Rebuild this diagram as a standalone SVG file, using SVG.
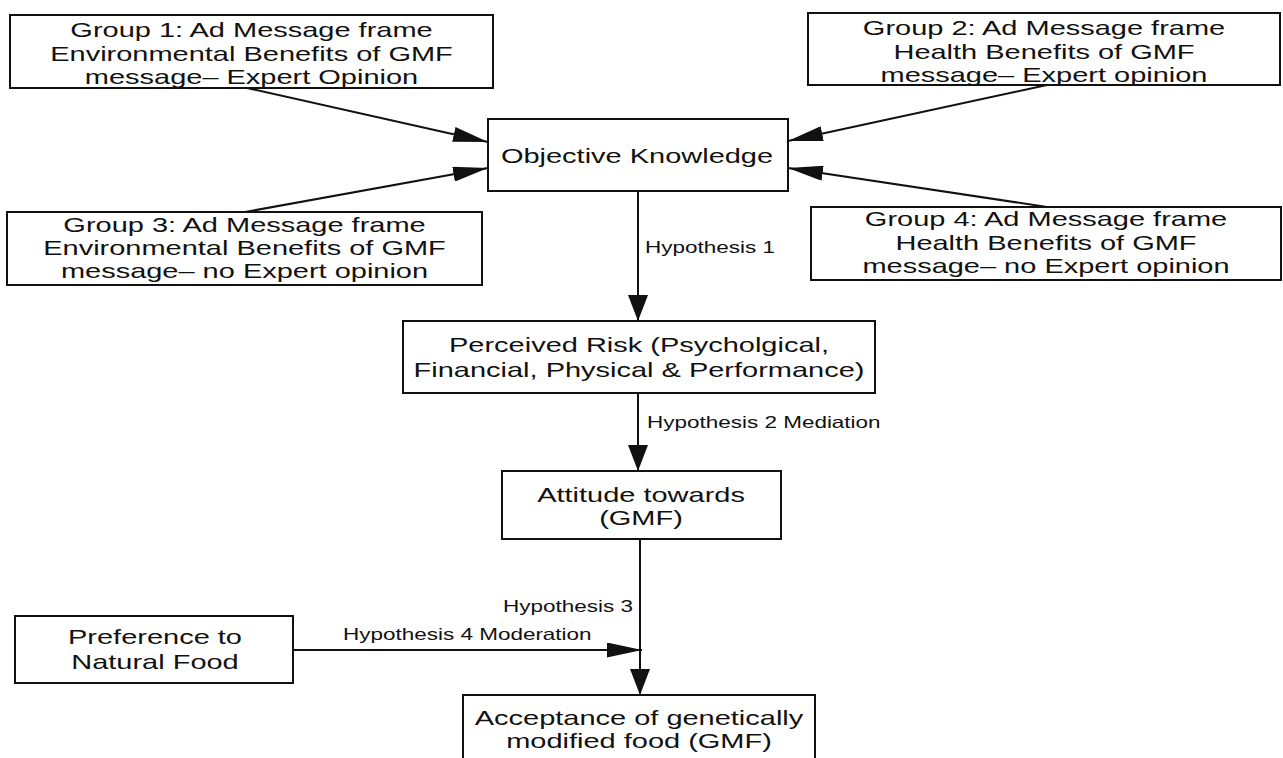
<svg xmlns="http://www.w3.org/2000/svg" width="1283" height="758" viewBox="0 0 1283 758">
<style>
.box{fill:#fff;stroke:#111;stroke-width:2}
.t{font-family:"Liberation Sans",Arial,sans-serif;font-size:21px;fill:#111;text-anchor:middle}
.lbl{font-family:"Liberation Sans",Arial,sans-serif;font-size:16.3px;fill:#111}
.c{stroke:#111;stroke-width:2;fill:none}
</style>
<defs>
<marker id="arrV" markerUnits="userSpaceOnUse" viewBox="0 0 26 20" refX="26" refY="10" markerWidth="26" markerHeight="20" orient="auto"><path d="M0,0 L26,10 L0,20 z" fill="#111"/></marker>
<marker id="arrH" markerUnits="userSpaceOnUse" viewBox="0 0 35 15" refX="35" refY="7.5" markerWidth="35" markerHeight="15" orient="auto"><path d="M0,0 L35,7.5 L0,15 z" fill="#111"/></marker>
</defs>
<rect width="1283" height="758" fill="#fff"/>
<g id="connectors">
<line class="c" x1="247" y1="88" x2="488" y2="142" marker-end="url(#arrH)"/>
<line class="c" x1="245" y1="212" x2="488" y2="168" marker-end="url(#arrH)"/>
<line class="c" x1="1047" y1="85" x2="788" y2="141" marker-end="url(#arrH)"/>
<line class="c" x1="1047" y1="207" x2="788" y2="168" marker-end="url(#arrH)"/>
<line class="c" x1="638" y1="191" x2="638" y2="321" marker-end="url(#arrV)"/>
<line class="c" x1="638" y1="393" x2="638" y2="471" marker-end="url(#arrV)"/>
<line class="c" x1="640" y1="539" x2="640" y2="695" marker-end="url(#arrV)"/>
<line class="c" x1="293" y1="650" x2="642" y2="650" marker-end="url(#arrH)"/>
<text class="lbl" transform="translate(645,253) scale(1.38,1)">Hypothesis 1</text>
<text class="lbl" transform="translate(647,428) scale(1.38,1)">Hypothesis 2 Mediation</text>
<text class="lbl" text-anchor="end" transform="translate(633,612) scale(1.38,1)">Hypothesis 3</text>
<text class="lbl" transform="translate(343,640) scale(1.38,1)">Hypothesis 4 Moderation</text>
</g>
<g id="group1">
<rect class="box" x="10" y="15" width="483" height="73"/>
<text class="t" transform="translate(251.5,0) scale(1.38,1)"><tspan x="0" y="37">Group 1: Ad Message frame</tspan><tspan x="0" y="61">Environmental Benefits of GMF</tspan><tspan x="0" y="84">message– Expert Opinion</tspan></text>
</g>
<g id="group2">
<rect class="box" x="808" y="13" width="472" height="72"/>
<text class="t" transform="translate(1044,0) scale(1.38,1)"><tspan x="0" y="35">Group 2: Ad Message frame</tspan><tspan x="0" y="59">Health Benefits of GMF</tspan><tspan x="0" y="82">message– Expert opinion</tspan></text>
</g>
<g id="group3">
<rect class="box" x="7" y="212" width="475" height="73"/>
<text class="t" transform="translate(244.5,0) scale(1.38,1)"><tspan x="0" y="232">Group 3: Ad Message frame</tspan><tspan x="0" y="255">Environmental Benefits of GMF</tspan><tspan x="0" y="278">message– no Expert opinion</tspan></text>
</g>
<g id="group4">
<rect class="box" x="811" y="207" width="470" height="73"/>
<text class="t" transform="translate(1046,0) scale(1.38,1)"><tspan x="0" y="226">Group 4: Ad Message frame</tspan><tspan x="0" y="250">Health Benefits of GMF</tspan><tspan x="0" y="273">message– no Expert opinion</tspan></text>
</g>
<g id="objective">
<rect class="box" x="488" y="119" width="300" height="72"/>
<text class="t" transform="translate(637,163) scale(1.38,1)">Objective Knowledge</text>
</g>
<g id="risk">
<rect class="box" x="403" y="321" width="472" height="72"/>
<text class="t" transform="translate(639,0) scale(1.38,1)"><tspan x="0" y="352">Perceived Risk (Psycholgical,</tspan><tspan x="0" y="377">Financial, Physical &amp; Performance)</tspan></text>
</g>
<g id="attitude">
<rect class="box" x="502" y="471" width="279" height="68"/>
<text class="t" transform="translate(641,0) scale(1.38,1)"><tspan x="0" y="502">Attitude towards</tspan><tspan x="0" y="525">(GMF)</tspan></text>
</g>
<g id="preference">
<rect class="box" x="15" y="616" width="278" height="67"/>
<text class="t" transform="translate(155,0) scale(1.38,1)"><tspan x="0" y="644">Preference to</tspan><tspan x="0" y="669">Natural Food</tspan></text>
</g>
<g id="acceptance">
<rect class="box" x="463" y="695" width="352" height="80"/>
<text class="t" transform="translate(639,0) scale(1.38,1)"><tspan x="0" y="725">Acceptance of genetically</tspan><tspan x="0" y="748">modified food (GMF)</tspan></text>
</g>
</svg>
